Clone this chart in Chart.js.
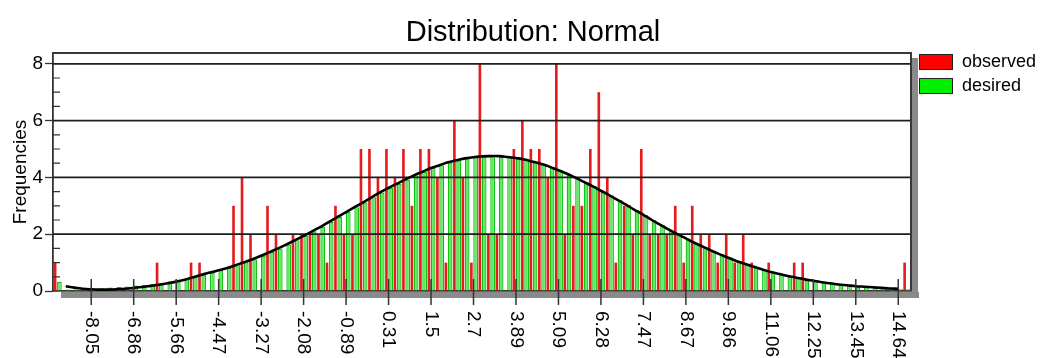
<!DOCTYPE html>
<html>
<head>
<meta charset="utf-8">
<script src="https://cdn.jsdelivr.net/npm/chart.js@4.4.0/dist/chart.umd.min.js"></script>
<style>
  html, body { margin: 0; padding: 0; background: #fff; }
  #wrap { width: 1048px; height: 358px; }
</style>
</head>
<body>
<div id="wrap"><canvas id="chart" width="1048" height="358"></canvas></div>
<script>
// ==================== Data ====================
// x tick labels, one every 5 bins (first one sits on bin 4)
const tickLabels = ['-8.05', '-6.86', '-5.66', '-4.47', '-3.27', '-2.08', '-0.89', '0.31', '1.5', '2.7',
                    '3.89', '5.09', '6.28', '7.47', '8.67', '9.86', '11.06', '12.25', '13.45', '14.64'];

// observed frequencies per bin (101 bins)
const observed = [1, 0, 0, 0, 0, 0, 0, 0, 0, 0, 0, 0, 1, 0, 0, 0, 1, 1, 0, 0,
                  0, 3, 4, 2, 0, 3, 2, 0, 2, 2, 2, 2, 1, 3, 2, 2, 5, 5, 4, 5,
                  4, 5, 3, 5, 5, 4, 1, 6, 4, 1, 8, 2, 2, 0, 5, 6, 5, 5, 4, 8,
                  2, 3, 3, 5, 7, 4, 1, 3, 2, 5, 2, 2, 2, 3, 1, 3, 2, 2, 1, 2,
                  1, 2, 1, 0, 1, 0, 0, 1, 1, 0, 0, 0, 0, 0, 0, 0, 0, 0, 0, 0, 1];

// desired (expected) frequencies per bin
const desired = [0.33, 0.05, 0.06, 0.07, 0.08, 0.10, 0.12, 0.14, 0.16, 0.19, 0.22,
                 0.25, 0.29, 0.34, 0.39, 0.44, 0.50, 0.57, 0.65, 0.73, 0.81,
                 0.91, 1.01, 1.12, 1.24, 1.37, 1.50, 1.64, 1.79, 1.94, 2.10,
                 2.26, 2.43, 2.61, 2.78, 2.95, 3.12, 3.30, 3.47, 3.63, 3.78,
                 3.93, 4.07, 4.20, 4.33, 4.43, 4.53, 4.60, 4.67, 4.71, 4.74,
                 4.75, 4.75, 4.72, 4.68, 4.63, 4.55, 4.47, 4.37, 4.25, 4.13,
                 3.99, 3.84, 3.69, 3.53, 3.37, 3.20, 3.03, 2.85, 2.68, 2.50,
                 2.33, 2.16, 2.00, 1.85, 1.70, 1.56, 1.42, 1.29, 1.17, 1.05,
                 0.95, 0.85, 0.76, 0.67, 0.60, 0.53, 0.47, 0.41, 0.36, 0.31,
                 0.27, 0.23, 0.20, 0.17, 0.15, 0.13, 0.11, 0.09, 0.08, 0.06];

// black fitted curve (no value on the two end bins)
const fittedCurve = [null, 0.17, 0.12, 0.08, 0.06, 0.05, 0.05, 0.06, 0.08, 0.11, 0.14,
                     0.18, 0.22, 0.27, 0.33, 0.40, 0.48, 0.57, 0.65, 0.73, 0.81,
                     0.91, 1.01, 1.12, 1.24, 1.37, 1.50, 1.64, 1.79, 1.94, 2.10,
                     2.26, 2.43, 2.61, 2.78, 2.95, 3.12, 3.30, 3.47, 3.63, 3.78,
                     3.93, 4.07, 4.20, 4.33, 4.43, 4.53, 4.60, 4.67, 4.71, 4.74,
                     4.75, 4.75, 4.72, 4.68, 4.63, 4.55, 4.47, 4.37, 4.25, 4.13,
                     3.99, 3.84, 3.69, 3.53, 3.37, 3.20, 3.03, 2.85, 2.68, 2.50,
                     2.33, 2.16, 2.00, 1.85, 1.70, 1.56, 1.42, 1.29, 1.17, 1.05,
                     0.95, 0.85, 0.76, 0.67, 0.60, 0.53, 0.47, 0.41, 0.36, 0.31,
                     0.27, 0.23, 0.20, 0.17, 0.15, 0.13, 0.11, 0.09, 0.08, null];

const yTicks = [0, 2, 4, 6, 8];
const chartTitle = 'Distribution: Normal';
const legendNames = ['observed', 'desired'];
const legendColors = ['#ff0000', '#00f000'];

// ==================== Setup ====================
const FONT = '"Liberation Sans", Arial, sans-serif';
const FIRST_TICK_BIN = 4;
const BINS_PER_TICK = 5;

// category labels: tick label on every 5th bin, blank elsewhere
const binLabels = observed.map((_, i) => {
    const k = (i - FIRST_TICK_BIN) / BINS_PER_TICK;
    return (Number.isInteger(k) && tickLabels[k]) ? tickLabels[k] : '';
});

// title, frame, shadow, minor ticks, rotated x labels, legend
const decor = {
    id: 'decor',
    beforeDatasetDraw(chart, args) {
        if (args.index !== 2) return;
        // grid lines over the bars, under the curve
        const {ctx, chartArea: a, scales: {y}} = chart;
        ctx.save();
        ctx.strokeStyle = '#1e1e1e';
        ctx.lineWidth = 1.8;
        ctx.beginPath();
        yTicks.forEach(v => {
            if (v === 0) return;
            const py = y.getPixelForValue(v);
            ctx.moveTo(a.left, py); ctx.lineTo(a.right, py);
        });
        ctx.stroke();
        ctx.restore();
    },
    afterDraw(chart) {
        const {ctx, chartArea: a, scales: {x, y}} = chart;
        ctx.save();
        // title
        ctx.fillStyle = '#000';
        ctx.font = '29px ' + FONT;
        ctx.textAlign = 'center';
        ctx.textBaseline = 'alphabetic';
        ctx.fillText(chartTitle, 533, 41);
        // drop shadow
        ctx.fillStyle = '#8a8a8a';
        ctx.fillRect(a.left + 8, a.bottom + 1, a.right - a.left, 6);
        ctx.fillRect(a.right + 1, a.top + 5, 6, a.bottom - a.top + 2);
        // top / right frame
        ctx.strokeStyle = '#3a3a3a';
        ctx.lineWidth = 2;
        ctx.beginPath();
        ctx.moveTo(a.left, a.top); ctx.lineTo(a.right, a.top); ctx.lineTo(a.right, a.bottom);
        ctx.stroke();
        // minor y ticks (inside)
        ctx.strokeStyle = '#333';
        ctx.lineWidth = 1.2;
        ctx.beginPath();
        for (let v = 0.5; v < 8; v += 0.5) {
            if (v % 2 === 0) continue;
            const py = y.getPixelForValue(v);
            ctx.moveTo(a.left, py); ctx.lineTo(a.left + 7, py);
        }
        ctx.stroke();
        // x ticks + clockwise labels
        ctx.strokeStyle = '#333';
        ctx.lineWidth = 1.5;
        ctx.fillStyle = '#000';
        ctx.font = '19px ' + FONT;
        binLabels.forEach((lab, i) => {
            if (!lab) return;
            const px = x.getPixelForValue(i);
            ctx.beginPath();
            ctx.moveTo(px, a.bottom - 12); ctx.lineTo(px, a.bottom + 14);
            ctx.stroke();
            ctx.save();
            ctx.translate(px, a.bottom + 20);
            ctx.rotate(Math.PI / 2);
            ctx.textAlign = 'left';
            ctx.textBaseline = 'middle';
            ctx.fillText(lab, 0, 0);
            ctx.restore();
        });
        // legend
        ctx.font = '18px ' + FONT;
        ctx.textAlign = 'left';
        ctx.textBaseline = 'middle';
        legendNames.forEach((name, i) => {
            const top = a.top + 1 + i * 24;
            ctx.fillStyle = legendColors[i];
            ctx.fillRect(a.right + 8, top, 34, 16);
            ctx.strokeStyle = '#222';
            ctx.lineWidth = 1;
            ctx.strokeRect(a.right + 8.5, top + 0.5, 33, 15);
            ctx.fillStyle = '#000';
            ctx.fillText(name, a.right + 51, top + 8);
        });
        ctx.restore();
    }
};

// ==================== Chart ====================
new Chart(document.getElementById('chart'), {
    data: {
        labels: binLabels,
        datasets: [
            {
                type: 'bar', label: 'observed', data: observed, order: 1,
                backgroundColor: '#e61c1c', borderWidth: 0,
                categoryPercentage: 1, barPercentage: 0.62
            },
            {
                type: 'bar', label: 'desired', data: desired, order: 1,
                backgroundColor: '#62e862', borderColor: '#12c012', borderWidth: 1.3,
                categoryPercentage: 1, barPercentage: 1.12
            },
            {
                type: 'line', label: 'curve', data: fittedCurve, order: 0,
                borderColor: '#000', borderWidth: 2.6, pointRadius: 0,
                tension: 0.4, fill: false
            }
        ]
    },
    options: {
        responsive: false,
        animation: false,
        events: [],
        layout: { padding: { left: 0, right: 137, top: 53, bottom: 0 } },
        scales: {
            x: {
                type: 'category', offset: true,
                grid: { display: false },
                ticks: { display: false },
                border: { display: true, color: '#333', width: 1.8 },
                afterFit: s => { s.height = 67; }
            },
            y: {
                min: 0, max: 8.38,
                afterBuildTicks: s => { s.ticks = yTicks.map(v => ({ value: v })); },
                afterFit: s => { s.width = 53; },
                grid: { drawOnChartArea: false, tickLength: 8, tickColor: '#333', tickWidth: 1.3 },
                border: { display: true, color: '#333', width: 1.8 },
                ticks: { color: '#000', padding: 2, font: { family: FONT, size: 19 } },
                title: {
                    display: true, text: 'Frequencies', color: '#000',
                    font: { family: FONT, size: 19 }, padding: { top: 9, bottom: 0 }
                }
            }
        },
        plugins: {
            legend: { display: false },
            tooltip: { enabled: false },
            title: { display: false }
        }
    },
    plugins: [decor]
});
</script>
</body>
</html>
